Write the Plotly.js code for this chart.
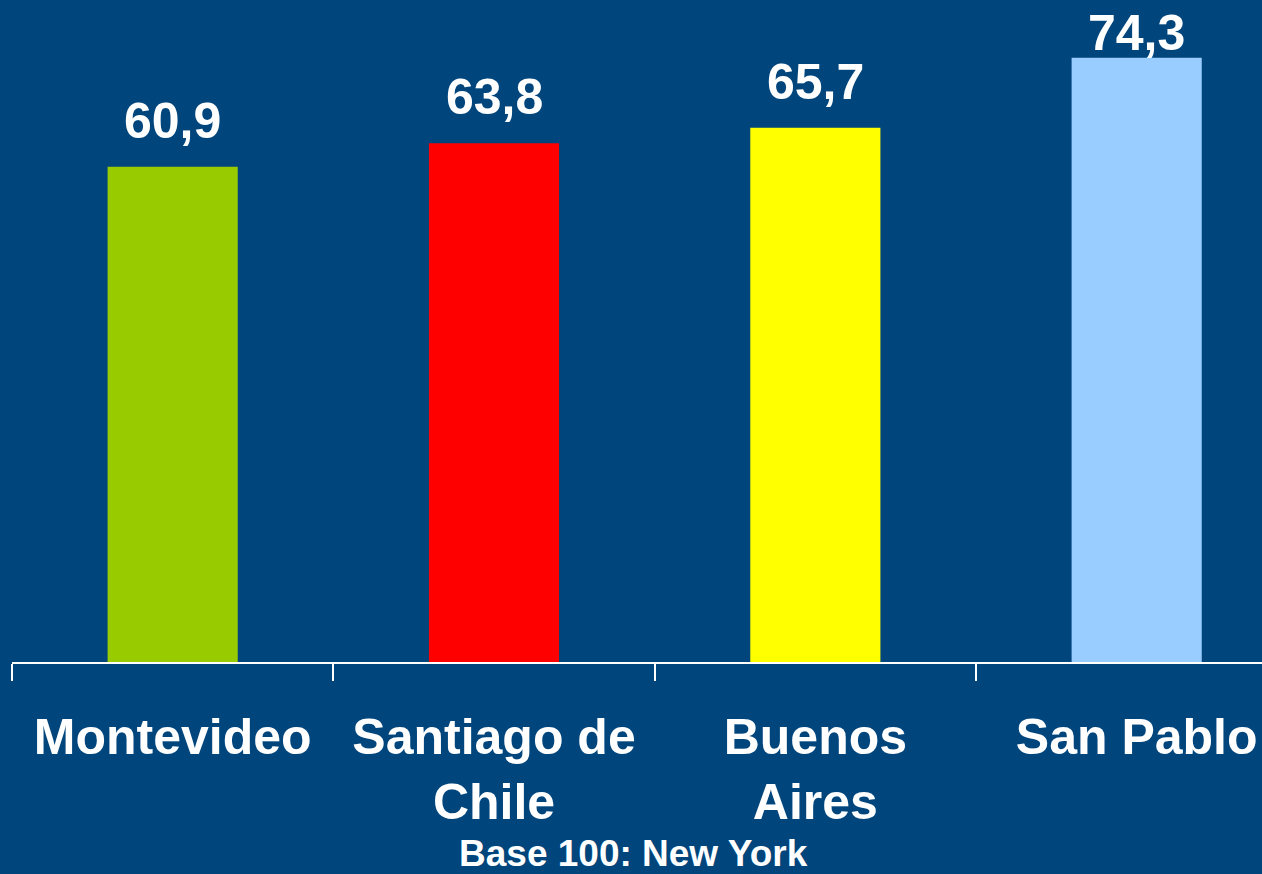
<!DOCTYPE html>
<html>
<head>
<meta charset="utf-8">
<script src="https://cdn.plot.ly/plotly-3.0.1.min.js"></script>
<style>html,body{margin:0;padding:0;background:#00457C;}#chart{width:1262px;height:874px;}</style>
</head>
<body>
<div id="chart"></div>
<script>
const categories = ["Montevideo", "Santiago de<br>Chile", "Buenos<br>Aires", "San Pablo"];
const values = [60.9, 63.8, 65.7, 74.3];
const valueLabels = ["60,9", "63,8", "65,7", "74,3"];
const barColors = ["#99CC00", "#FF0000", "#FFFF00", "#99CCFF"];
const footnote = "Base 100: New York";

const font = "Liberation Sans, Arial, sans-serif";
const plotH = 662, yMax = 81.4;
const labelGap = 16, labelBox = 58, topLimit = 5;

const trace = {
  type: "bar",
  x: categories,
  y: values,
  marker: {color: barColors},
  width: 0.405,
  hoverinfo: "none"
};

const valueAnnotations = values.map((v, i) => {
  const barTopPx = plotH - v * plotH / yMax;
  const shift = Math.min(labelGap, barTopPx - labelBox - topLimit);
  return {
    x: categories[i], y: v, xref: "x", yref: "y",
    text: "<b>" + valueLabels[i] + "</b>",
    showarrow: false, yanchor: "bottom", xanchor: "center",
    yshift: shift,
    font: {family: font, size: 50, color: "#FFFFFF"}
  };
});

const layout = {
  width: 1262, height: 874,
  margin: {l: 12, r: 0, t: 0, b: 212},
  paper_bgcolor: "#00457C",
  plot_bgcolor: "#00457C",
  showlegend: false,
  xaxis: {
    type: "category",
    range: [-0.5, 3.39],
    tickson: "boundaries",
    ticks: "outside",
    ticklen: 17,
    tickwidth: 2,
    tickcolor: "#FFFFFF",
    showline: true,
    linecolor: "#FFFFFF",
    linewidth: 2,
    showgrid: false,
    tickangle: 0,
    ticklabelstandoff: 30,
    tickfont: {family: font, size: 50, color: "#FFFFFF", weight: "bold"},
    fixedrange: true
  },
  yaxis: {
    range: [0, yMax],
    visible: false,
    showgrid: false,
    zeroline: false,
    fixedrange: true
  },
  annotations: valueAnnotations.concat([{
    text: "<b>" + footnote + "</b>",
    xref: "paper", yref: "paper",
    x: (633 - 12) / 1250, y: -(875 - 662) / 662,
    xanchor: "center", yanchor: "bottom",
    borderpad: 0,
    showarrow: false,
    font: {family: font, size: 37, color: "#FFFFFF"}
  }])
};
Plotly.newPlot("chart", [trace], layout, {displayModeBar: false, staticPlot: true});
</script>
</body>
</html>
